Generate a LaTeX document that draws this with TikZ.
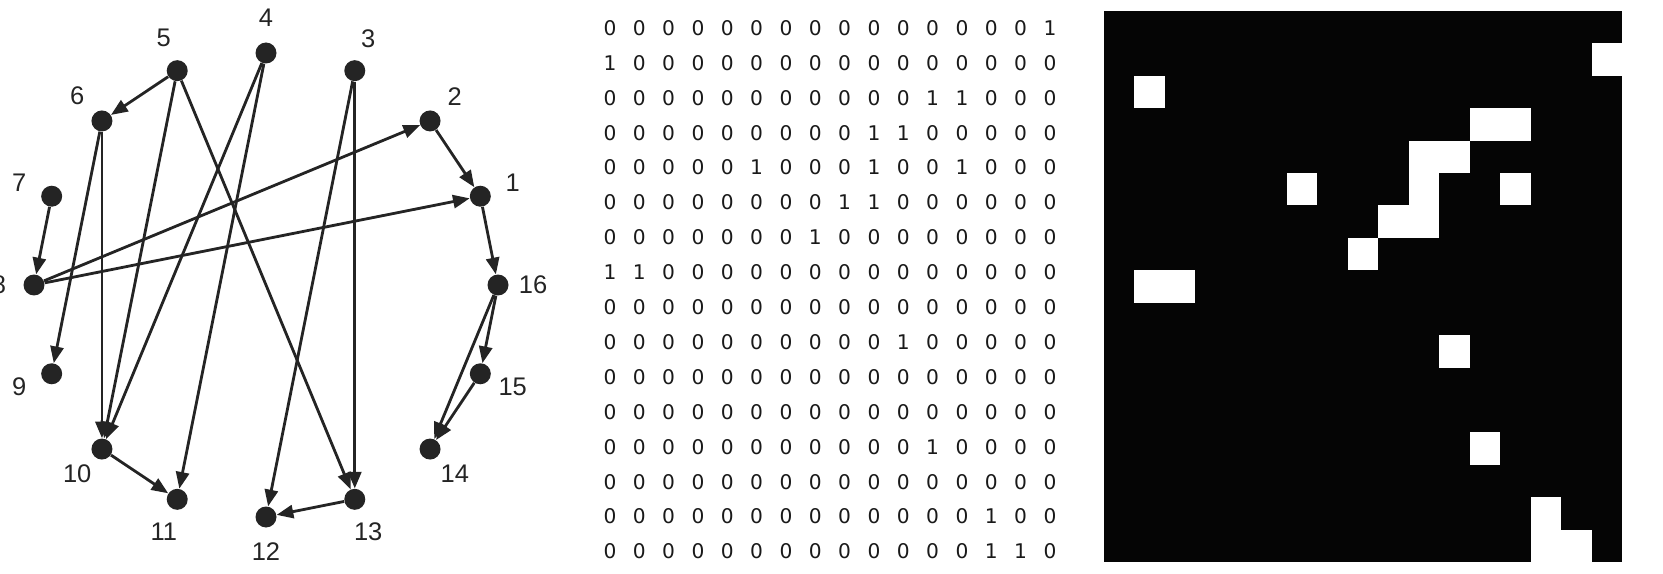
\documentclass[tikz,border=0pt]{standalone}
\usepackage{fontspec}
\setmainfont{Liberation Sans}
\newfontfamily\matfont{DejaVu Sans}
\usetikzlibrary{calc,arrows.meta}
\def\cellw{30.47}
\def\cellh{32.41}

\begin{document}
\begin{tikzpicture}[x=0.02cm, y=-0.02cm,
	vertex/.style={circle, fill=black!86, inner sep=0pt, minimum size=0.42cm},
	vlabel/.style={font=\fontsize{14.5}{16}\selectfont, text=black!86, inner sep=0pt},
	edge/.style={-{Triangle[length=9.5pt,width=7.5pt]}, line width=1.6pt, draw=black!86},
	entry/.style={font=\matfont\fontsize{11.5}{13}\selectfont, inner sep=0pt, text=black!90}]
		%%%%% START %%%%%
		\useasboundingbox (0,0) rectangle (1663,574);
		\coordinate (c) at (266,285);
		
		\foreach \k in {1,...,16}{
			\node[vertex] (v\k) at ($(c)+(-\k*22.5:232)$) {};
			\node[vlabel] (l\k) at ($(c)+(-\k*22.5:267)$) {\k};
		}
		\foreach \a/\b in {1/16,2/1,3/12,3/13,4/10,4/11,5/6,5/10,5/13,6/9,6/10,7/8,8/1,8/2,10/11,13/12,15/14,16/14,16/15}
			\draw[edge] (v\a) -- (v\b);
		
		\fill[black!98] (1104,11) rectangle (1622,562);
		\foreach \row [count=\i] in {
			{0,0,0,0,0,0,0,0,0,0,0,0,0,0,0,1},
			{1,0,0,0,0,0,0,0,0,0,0,0,0,0,0,0},
			{0,0,0,0,0,0,0,0,0,0,0,1,1,0,0,0},
			{0,0,0,0,0,0,0,0,0,1,1,0,0,0,0,0},
			{0,0,0,0,0,1,0,0,0,1,0,0,1,0,0,0},
			{0,0,0,0,0,0,0,0,1,1,0,0,0,0,0,0},
			{0,0,0,0,0,0,0,1,0,0,0,0,0,0,0,0},
			{1,1,0,0,0,0,0,0,0,0,0,0,0,0,0,0},
			{0,0,0,0,0,0,0,0,0,0,0,0,0,0,0,0},
			{0,0,0,0,0,0,0,0,0,0,1,0,0,0,0,0},
			{0,0,0,0,0,0,0,0,0,0,0,0,0,0,0,0},
			{0,0,0,0,0,0,0,0,0,0,0,0,0,0,0,0},
			{0,0,0,0,0,0,0,0,0,0,0,1,0,0,0,0},
			{0,0,0,0,0,0,0,0,0,0,0,0,0,0,0,0},
			{0,0,0,0,0,0,0,0,0,0,0,0,0,1,0,0},
			{0,0,0,0,0,0,0,0,0,0,0,0,0,1,1,0}}{
			\foreach \v [count=\j] in \row {
				\node[entry] (m\i-\j) at ({610+29.33*(\j-1)},{28+34.9*(\i-1)}) {\v};
				\ifnum\v=1 \fill[white] ({1104+\cellw*\j},{11+\cellh*\i}) rectangle ++(\cellw,\cellh); \fi
			}
		}
		%%%%% END %%%%%
\end{tikzpicture}
\end{document}
